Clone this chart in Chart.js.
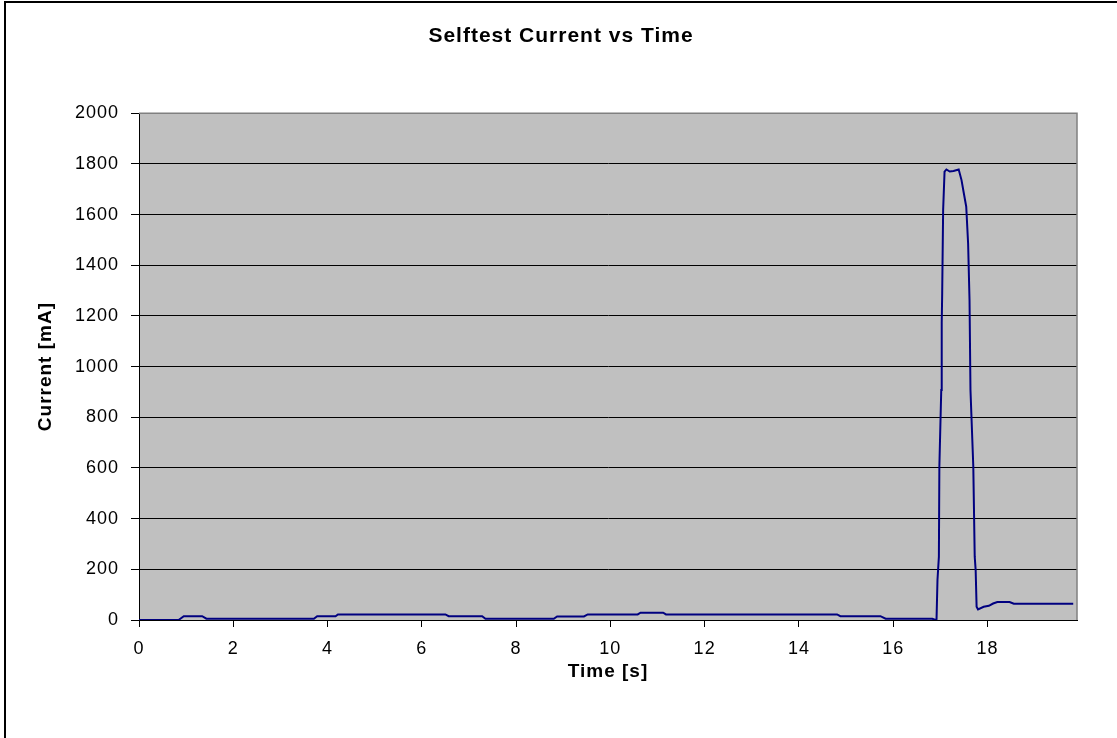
<!DOCTYPE html>
<html>
<head>
<meta charset="utf-8">
<title>Selftest Current vs Time</title>
<script src="https://cdn.jsdelivr.net/npm/chart.js@4"></script>
<style>
  html, body { margin: 0; padding: 0; background: #fff; }
  #wrap { position: absolute; left: 0; top: 0; width: 1117px; height: 738px; }
  #frame { position: absolute; left: 4px; top: 1px; width: 1113px; height: 737px;
           border-left: 2px solid #000; border-top: 2px solid #000;
           box-sizing: border-box; pointer-events: none; }
</style>
</head>
<body>
<div id="wrap"><canvas id="chart" width="1117" height="738"></canvas></div>
<div id="frame"></div>
<script>
// time [s] and current [mA]
const times = [
  0, 0.84, 0.95, 1.34, 1.43, 3.71, 3.78, 4.17, 4.22, 6.5, 6.57, 7.28, 7.35,
  8.8, 8.87, 9.44, 9.52, 10.58, 10.64, 11.12, 11.18, 14.81, 14.88, 15.73, 15.84,
  16.83, 16.9, 16.92, 16.94, 16.97, 16.98, 17.02, 17.03, 17.04, 17.06, 17.09,
  17.13, 17.2, 17.28, 17.39, 17.45, 17.5, 17.55, 17.59, 17.62, 17.64, 17.7,
  17.73, 17.75, 17.77, 17.8, 17.92, 18.03, 18.12, 18.21, 18.47, 18.56, 19.82
];
const current = [
  0, 0, 15, 15, 5, 5, 15, 15, 22, 22, 15, 15, 5,
  5, 14, 14, 22, 22, 29, 29, 22, 22, 15, 15, 5,
  5, 0, 3, 158, 250, 605, 908, 1172, 1290, 1617, 1769,
  1778, 1770, 1772, 1778, 1736, 1683, 1631, 1486, 1262, 908, 605,
  250, 197, 52, 42, 52, 56, 65, 71, 71, 64, 64
];
const xTicks = [0, 2, 4, 6, 8, 10, 12, 14, 16, 18];
const xMax = 19.9;

Chart.defaults.font.family = '"Liberation Sans", Arial, sans-serif';
Chart.defaults.color = '#000';

// grey plot area + grey top/right frame, slightly spaced text like the original
const plotArea = {
  id: 'plotArea',
  beforeDraw(chart) {
    const { ctx, chartArea: a } = chart;
    ctx.letterSpacing = '1px';
    ctx.save();
    ctx.fillStyle = '#c0c0c0';
    ctx.fillRect(a.left, a.top, a.width, a.height);
    ctx.restore();
  },
  beforeDatasetsDraw(chart) {
    const { ctx, chartArea: a } = chart;
    ctx.save();
    ctx.strokeStyle = '#808080';
    ctx.lineWidth = 1.5;
    ctx.beginPath();
    ctx.moveTo(a.left, a.top);
    ctx.lineTo(a.right, a.top);
    ctx.lineTo(a.right, a.bottom);
    ctx.stroke();
    ctx.restore();
  }
};

const ctx = document.getElementById('chart');
new Chart(ctx, {
  type: 'line',
  data: {
    datasets: [{
      label: 'Current',
      data: times.map((t, i) => ({ x: t, y: current[i] })),
      borderColor: '#000080',
      borderWidth: 2,
      pointRadius: 0,
      tension: 0,
      fill: false
    }]
  },
  options: {
    responsive: false,
    animation: false,
    layout: { padding: { left: 5, right: 0, top: 0, bottom: 0 } },
    plugins: {
      legend: { display: false },
      tooltip: { enabled: false },
      title: {
        display: true,
        text: 'Selftest Current vs Time',
        color: '#000',
        font: { size: 21, weight: 'bold' },
        padding: { top: 24, bottom: 64 }
      }
    },
    scales: {
      x: {
        type: 'linear',
        min: 0,
        max: xMax,
        afterBuildTicks: s => { s.ticks = xTicks.map(v => ({ value: v })); },
        afterFit: s => { s.height = 118; },
        grid: { drawOnChartArea: false, color: '#000', tickColor: '#000', tickLength: 7 },
        border: { color: '#000', width: 1 },
        ticks: { color: '#000', font: { size: 18 }, padding: 11, maxRotation: 0 },
        title: {
          display: true,
          text: 'Time [s]',
          color: '#000',
          font: { size: 19, weight: 'bold' },
          padding: { top: 0, bottom: 55 }
        }
      },
      y: {
        min: 0,
        max: 2000,
        afterFit: s => { s.width = 134; },
        grid: {
          color: c => (c.tick && c.tick.value === 2000 ? '#808080' : '#000'),
          tickColor: '#000',
          tickLength: 8
        },
        border: { color: '#000', width: 1 },
        ticks: {
          stepSize: 200,
          color: '#000',
          font: { size: 18 },
          padding: 12,
          callback: v => String(v)
        },
        title: {
          display: true,
          text: 'Current [mA]',
          color: '#000',
          font: { size: 19, weight: 'bold' },
          padding: { top: 29, bottom: 0 }
        }
      },
      // empty right-hand strip so the title centres like the original
      yRight: {
        position: 'right',
        min: 0,
        max: 2000,
        afterFit: s => { s.width = 40; },
        grid: { display: false },
        border: { display: false },
        ticks: { display: false }
      }
    }
  },
  plugins: [plotArea]
});
</script>
</body>
</html>
